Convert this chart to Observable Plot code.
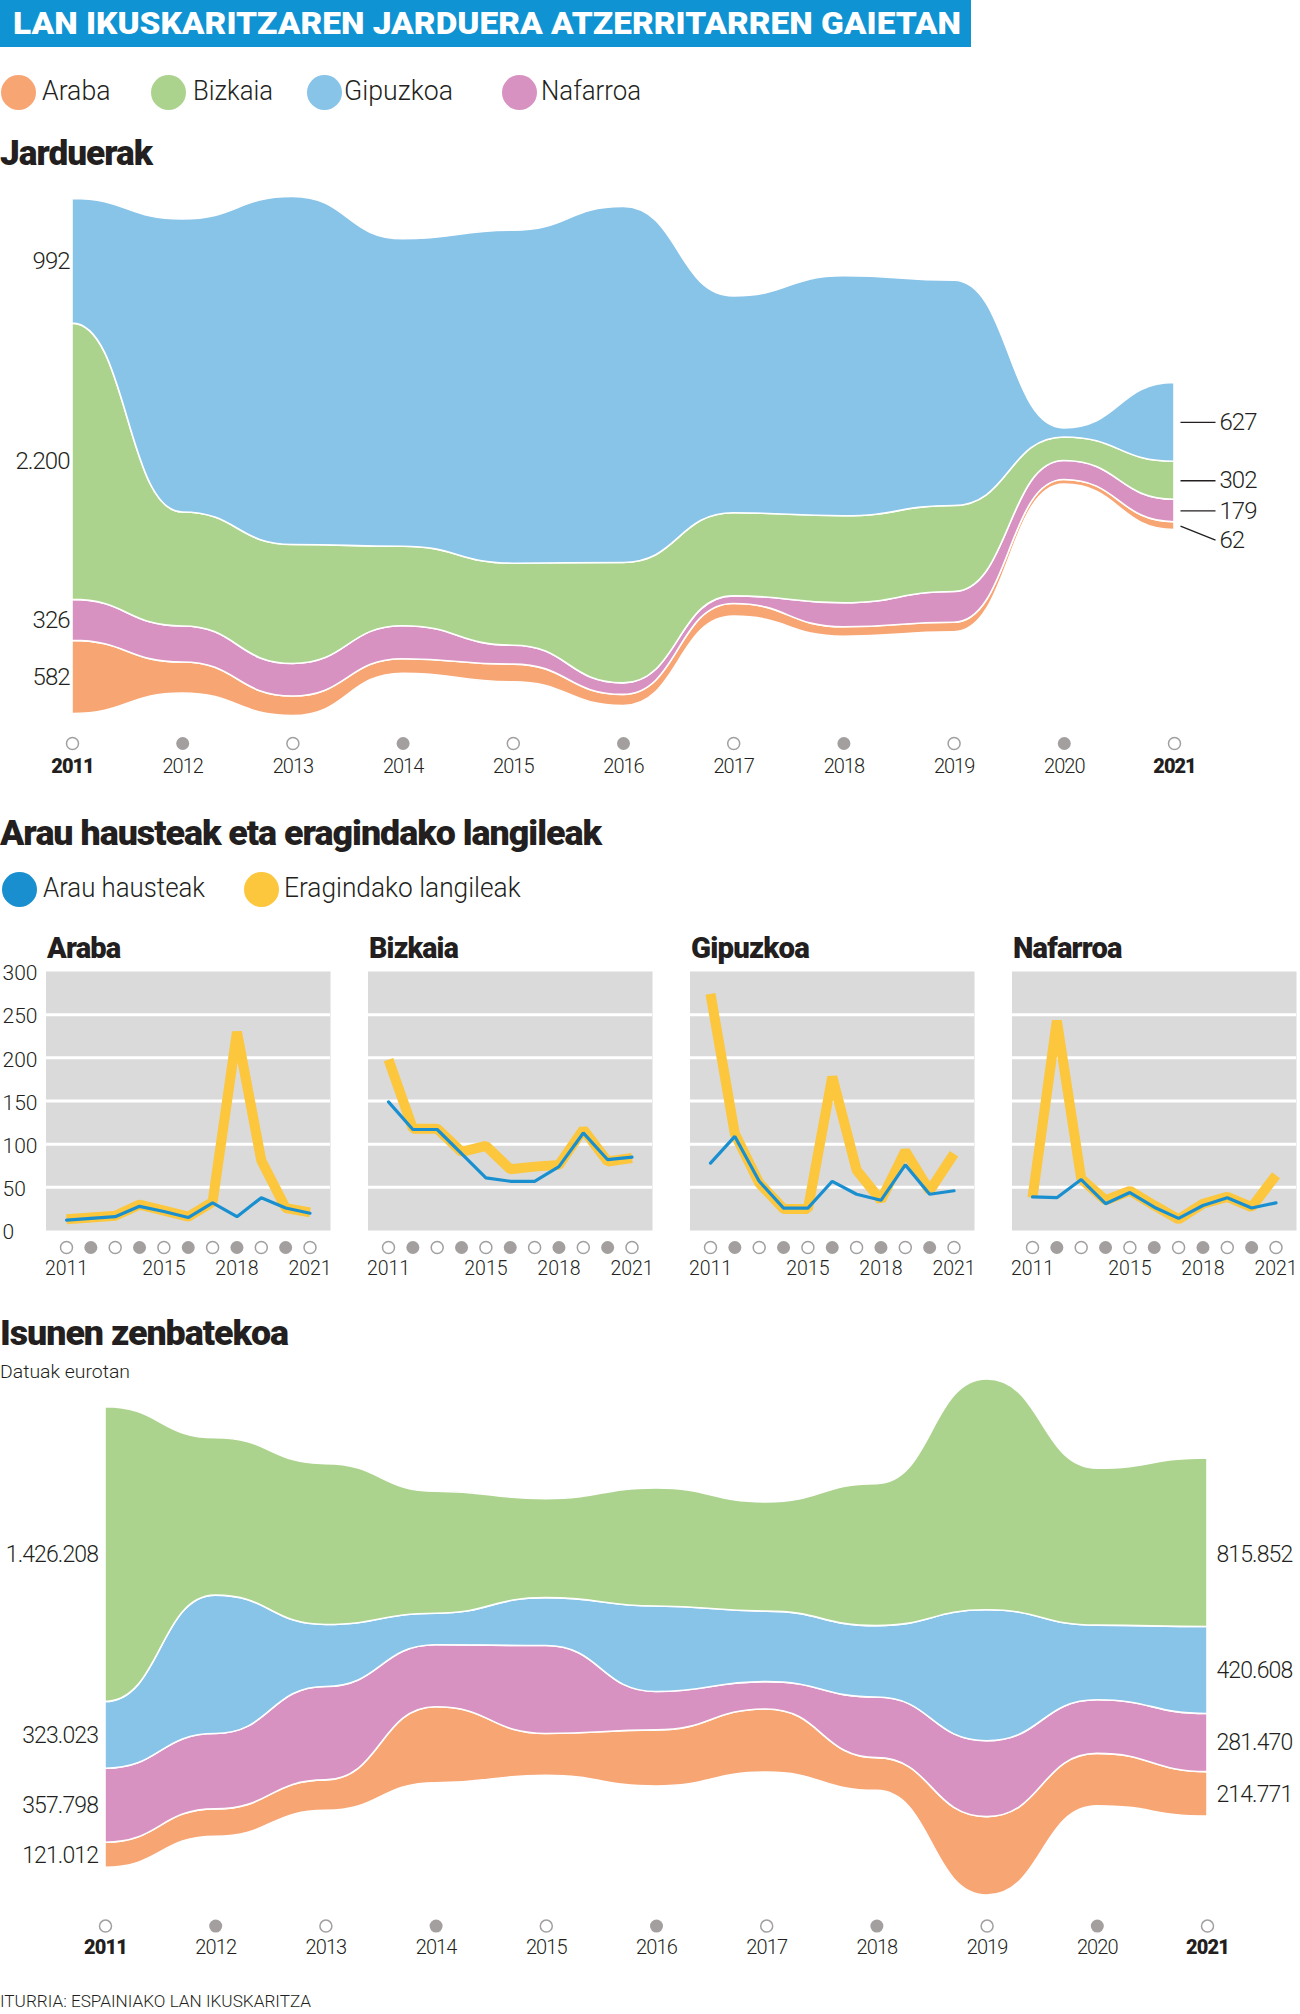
<!DOCTYPE html>
<html><head><meta charset="utf-8">
<script src="https://cdn.jsdelivr.net/npm/d3@7"></script>
<script src="https://cdn.jsdelivr.net/npm/@observablehq/plot@0.6"></script>
<style>
html,body{margin:0;padding:0;background:#fff;}
#root{position:relative;width:1300px;height:2014px;overflow:hidden;font-family:Roboto,"Open Sans",sans-serif;color:#231f20;background:#fff;}
.t{position:absolute;white-space:nowrap;line-height:1;transform-origin:0 50%;}
.c{position:absolute;border-radius:50%;}
.p{position:absolute;}
.p svg{max-width:none !important;}
</style></head><body><div id="root"></div>
<script>
// ---------------- DATA ----------------
const years = [2011, 2012, 2013, 2014, 2015, 2016, 2017, 2018, 2019, 2020, 2021];
const regions = ["Araba", "Bizkaia", "Gipuzkoa", "Nafarroa"];
const regionColors = ["#f8a574", "#acd38d", "#88c3e8", "#d892c1"];

// Jarduerak (activities)
const actAraba    = [582, 247, 155, 115, 140, 88, 101, 75, 76, 36, 62];
const actBizkaia  = [2200, 908, 948, 633, 653, 959, 661, 693, 685, 187, 302];
const actGipuzkoa = [992, 2333, 2771, 2448, 2651, 2834, 1728, 1911, 1795, 72, 627];
const actNafarroa = [326, 287, 259, 263, 151, 92, 61, 191, 245, 152, 179];

// Arau hausteak (infractions) / Eragindako langileak (affected workers)
const infAraba     = [12, 14, 16, 28, 22, 15, 32, 16, 38, 26, 20];
const workAraba    = [13, 15, 17, 30, 23, 16, 33, 230, 81, 26, 21];
const infBizkaia   = [149, 117, 117, 89, 61, 57, 57, 74, 113, 82, 85];
const workBizkaia  = [198, 118, 118, 91, 98, 71, 74, 76, 117, 80, 84];
const infGipuzkoa  = [78, 109, 57, 26, 26, 57, 42, 35, 76, 42, 46];
const workGipuzkoa = [274, 112, 55, 25, 25, 178, 70, 35, 92, 46, 89];
const infNafarroa  = [39, 38, 59, 31, 44, 27, 14, 29, 38, 26, 32];
const workNafarroa = [38, 243, 60, 35, 46, 29, 13, 31, 39, 27, 64];
const panelYTicks = [0, 50, 100, 150, 200, 250, 300];
const panelYearLabels = [2011, 2015, 2018, 2021];

// Isunen zenbatekoa (fines, euros)
const fineAraba    = [121012, 132500, 147500, 367500, 203000, 271000, 305600, 158600, 379000, 253600, 214771];
const fineBizkaia  = [1426208, 761500, 778000, 590000, 479000, 570500, 528500, 687000, 1116600, 759600, 815852];
const fineGipuzkoa = [323023, 669600, 300000, 153000, 232000, 414000, 341000, 345700, 633600, 361000, 420608];
const fineNafarroa = [357798, 365000, 452000, 300000, 425500, 185700, 132500, 293000, 367500, 259500, 281470];

// ---------------- HELPERS ----------------
const root = document.getElementById("root");
const fits = [];
const INK = "#231f20";
const fmt = d3.formatLocale({decimal: ",", thousands: ".", grouping: [3], currency: ["", "€"]}).format(",d");

function addText(str, o) {
  const el = document.createElement("div");
  el.className = "t";
  el.textContent = str;
  Object.assign(el.style, {
    left: o.x + "px", top: (o.cy - o.size / 2) + "px", fontSize: o.size + "px",
    fontWeight: o.weight || 400, color: o.color || INK, fontFamily: o.family || "Roboto, sans-serif",
    letterSpacing: (o.ls || 0) + "px"
  });
  root.appendChild(el);
  if (o.w) fits.push([el, o.w]);
  return el;
}
function addCircle(cx, cy, r, color) {
  const el = document.createElement("div");
  el.className = "c";
  Object.assign(el.style, {left: (cx - r) + "px", top: (cy - r) + "px", width: 2 * r + "px", height: 2 * r + "px", background: color});
  root.appendChild(el);
}
function addBox(x, y, w, h, bg) {
  const el = document.createElement("div");
  Object.assign(el.style, {position: "absolute", left: x + "px", top: y + "px", width: w + "px", height: h + "px", background: bg});
  root.appendChild(el);
}
function place(svg, left, top) {
  const d = document.createElement("div");
  d.className = "p";
  d.style.left = left + "px"; d.style.top = top + "px";
  d.appendChild(svg);
  root.appendChild(d);
}
function doFit() {
  for (const [el, w] of fits) {
    el.style.transform = "none";
    const cw = el.getBoundingClientRect().width;
    if (cw > 0) el.style.transform = `scaleX(${w / cw})`;
  }
}
const plotStyle = {fontFamily: "Roboto, sans-serif", fontSize: "20px", background: "transparent", color: INK, overflow: "visible"};

// label anchors for a centred stack (same geometry as Plot's offset "center")
function stackLabels(series, order, yearIdx, kPx, nudge) {
  const totals = years.map((_, j) => d3.sum(order, r => series[r][j]));
  const maxTot = d3.max(totals);
  let acc = (maxTot - totals[yearIdx]) / 2;
  return order.map(r => {
    const v = series[r][yearIdx];
    const mid = acc + v / 2;
    acc += v;
    return {year: years[yearIdx], region: r, value: v, mid, labelY: mid - ((nudge && nudge[r]) || 0) / kPx};
  });
}

function streamChart(cfg) {
  const {series, order, W, H, mt, mb, ml, mr, leftDx, rightDx, leader, nudge, dotDy, labelDy, numSize, ls} = cfg;
  const rows = order.flatMap(r => years.map((y, j) => ({year: y, region: r, value: series[r][j]})));
  const totals = years.map((_, j) => d3.sum(order, r => series[r][j]));
  const maxTot = d3.max(totals);
  const kPx = (H - mt - mb) / maxTot;
  const ppy = (W - ml - mr) / (years.length - 1);
  const left = stackLabels(series, order, 0, kPx, null);
  const right = stackLabels(series, order, years.length - 1, kPx, nudge);
  const marks = [
    Plot.areaY(rows, Plot.stackY({offset: "center", order}, {
      x: "year", y: "value", z: "region", fill: "region", curve: "bump-x", stroke: "white", strokeWidth: 1.6
    })),
    Plot.text(left, {x: "year", y: "mid", text: d => fmt(d.value), textAnchor: "end", dx: leftDx, fontSize: numSize, fontWeight: 300}),
    Plot.text(right, {x: "year", y: "labelY", text: d => fmt(d.value), textAnchor: "start", dx: rightDx, fontSize: numSize, fontWeight: 300}),
    Plot.dot(years.filter(y => y % 2 === 1), {x: d => d, frameAnchor: "bottom", dy: dotDy, r: 6, fill: "white", stroke: "#a39f9f", strokeWidth: 1.5}),
    Plot.dot(years.filter(y => y % 2 === 0), {x: d => d, frameAnchor: "bottom", dy: dotDy, r: 6.5, fill: "#a39f9f"}),
    Plot.text(years.filter(y => y !== years[0] && y !== years[years.length - 1]), {x: d => d, text: d => String(d), frameAnchor: "bottom", lineAnchor: "middle", dy: labelDy, fontSize: 20, fontWeight: 300}),
    Plot.text([years[0], years[years.length - 1]], {x: d => d, text: d => String(d), frameAnchor: "bottom", lineAnchor: "middle", dy: labelDy, fontSize: 20, fontWeight: 900})
  ];
  if (leader) {
    marks.push(Plot.link(right, {
      x1: d => d.year + leader[0] / ppy, x2: d => d.year + leader[1] / ppy,
      y1: "mid", y2: "labelY", stroke: INK, strokeWidth: 1.3
    }));
  }
  return Plot.plot({
    width: W, height: H, marginTop: mt, marginBottom: mb, marginLeft: ml, marginRight: mr,
    x: {domain: d3.extent(years), axis: null},
    y: {domain: [0, maxTot], axis: null},
    color: {domain: regions, range: regionColors},
    style: {...plotStyle, letterSpacing: ls + "px"},
    marks
  });
}

// ---------------- HEADER ----------------
addBox(0, 0, 971, 47, "#0f93d2");
addText("LAN IKUSKARITZAREN JARDUERA ATZERRITARREN GAIETAN", {x: 13, cy: 23, size: 31, weight: 900, color: "#fff", w: 948});

const legX = [[18.5, 42, 68.5], [168, 193, 80], [324, 344, 109], [519, 541, 100]];
regions.forEach((r, i) => {
  addCircle(legX[i][0], 92, 17.5, regionColors[i]);
  addText(r, {x: legX[i][1], cy: 91, size: 28, weight: 300, w: legX[i][2]});
});

addText("Jarduerak", {x: 0, cy: 153, size: 35, weight: 900, ls: -1, w: 152});

// ---------------- CHART 1: Jarduerak ----------------
const actSeries = {Araba: actAraba, Bizkaia: actBizkaia, Gipuzkoa: actGipuzkoa, Nafarroa: actNafarroa};
place(streamChart({
  series: actSeries, order: ["Araba", "Nafarroa", "Bizkaia", "Gipuzkoa"],
  W: 1300, H: 610, mt: 16.5, mb: 74.5, ml: 72, mr: 126,
  leftDx: -3, rightDx: 45, leader: [6, 41], nudge: {Araba: 14},
  dotDy: 27.5, labelDy: 51, numSize: 24, ls: -1
}), 0, 180);

// ---------------- CHART 2: small multiples ----------------
addText("Arau hausteak eta eragindako langileak", {x: 0, cy: 833, size: 35, weight: 900, ls: -1, w: 601});
addCircle(19, 889, 17.5, "#1a8fcf");
addText("Arau hausteak", {x: 42.5, cy: 888, size: 28, weight: 300, w: 162});
addCircle(261, 889, 17.5, "#fcc63d");
addText("Eragindako langileak", {x: 284, cy: 888, size: 28, weight: 300, w: 236.6});

const infSeries = [infAraba, infBizkaia, infGipuzkoa, infNafarroa];
const workSeries = [workAraba, workBizkaia, workGipuzkoa, workNafarroa];
const titleW = [73.5, 89, 118, 108.7];
const PSTEP = 322, PML = 45.5, PW = 284.5;
regions.forEach((name, i) => {
  const rows = years.map((y, j) => ({year: y, inf: infSeries[i][j], work: workSeries[i][j]}));
  const marks = [
    Plot.frame({fill: "#dadada", stroke: "none"}),
    Plot.ruleY(panelYTicks.filter(v => v > 0 && v < 300), {stroke: "white", strokeWidth: 3}),
    Plot.lineY(rows, {x: "year", y: "work", stroke: "#fcc63d", strokeWidth: 10, strokeLinejoin: "miter", strokeLinecap: "butt"}),
    Plot.lineY(rows, {x: "year", y: "inf", stroke: "#1a8fcf", strokeWidth: 3.2, strokeLinejoin: "miter"}),
    Plot.dot(years.filter(y => y % 2 === 1), {x: d => d, frameAnchor: "bottom", dy: 17, r: 6, fill: "white", stroke: "#a39f9f", strokeWidth: 1.5}),
    Plot.dot(years.filter(y => y % 2 === 0), {x: d => d, frameAnchor: "bottom", dy: 17, r: 6.5, fill: "#a39f9f"}),
    Plot.text(panelYearLabels, {x: d => d, text: d => String(d), frameAnchor: "bottom", lineAnchor: "middle", dy: 38, fontSize: 19.5, fontWeight: 300})
  ];
  if (i === 0) {
    marks.push(Plot.text(panelYTicks, {y: d => d, text: d => String(d), frameAnchor: "left", dx: -43.5, dy: 2, textAnchor: "start", fontSize: 21, fontWeight: 300}));
  }
  const svg = Plot.plot({
    width: PML + PW + 2, height: 320, marginTop: 11, marginBottom: 50, marginLeft: PML, marginRight: 2,
    x: {domain: d3.extent(years), inset: 20.5, axis: null},
    y: {domain: [0, 300], axis: null},
    style: plotStyle,
    marks
  });
  place(svg, PSTEP * i, 960);
  addText(name, {x: PML + PSTEP * i + 1.5, cy: 948, size: 29, weight: 900, ls: -0.8, w: titleW[i]});
});

// ---------------- CHART 3: Isunen zenbatekoa ----------------
addText("Isunen zenbatekoa", {x: 0, cy: 1333, size: 35, weight: 900, ls: -1, w: 288});
addText("Datuak eurotan", {x: 0, cy: 1372, size: 18, weight: 300, w: 130});

const fineSeries = {Araba: fineAraba, Bizkaia: fineBizkaia, Gipuzkoa: fineGipuzkoa, Nafarroa: fineNafarroa};
place(streamChart({
  series: fineSeries, order: ["Araba", "Nafarroa", "Gipuzkoa", "Bizkaia"],
  W: 1300, H: 600, mt: 9, mb: 75, ml: 105, mr: 93,
  leftDx: -7.5, rightDx: 9, leader: null, nudge: {Bizkaia: 12},
  dotDy: 30.6, labelDy: 51.6, numSize: 23, ls: -0.9
}), 0, 1370);

addText("ITURRIA: ESPAINIAKO LAN IKUSKARITZA", {x: 0, cy: 2001, size: 17, weight: 300, w: 311});

doFit();
if (document.fonts && document.fonts.ready) document.fonts.ready.then(doFit);
</script></body></html>
